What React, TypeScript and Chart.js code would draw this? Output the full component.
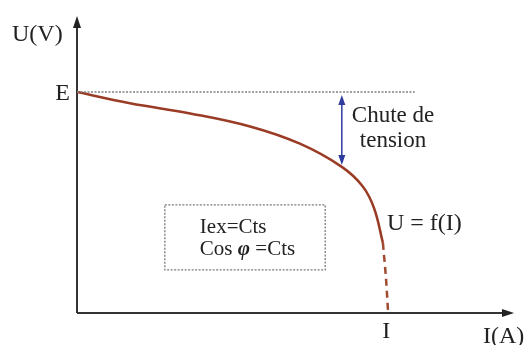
import React, { useEffect, useRef } from "react";
import Chart from "chart.js/auto";

// Data (arbitrary units: I on 0..100, U on 0..100)
const E_VALUE = 74.4;
const I_NOMINAL = 71.2;
const curveI = [0, 12.1, 25.9, 39.6, 51.0, 60.6, 65.4, 68.0, 70.0];
const curveU = [74.4, 70.6, 67.2, 62.8, 57.0, 49.2, 42.6, 35.2, 23.6];
const dashI = [70.0, 70.7, 71.2];
const dashU = [23.6, 11.8, 0];
const refLineI = [0, 77.3];
const dropArrowI = 60.6;
const dropArrowU = [73.4, 49.8];
const boxI = [20.1, 56.8];
const boxU = [36.4, 14.5];
const boxLine1 = "Iex=Cts";
const boxLine2 = ["Cos ", "φ", " =Cts"];
const dropLabel = ["Chute de", "tension"];
const curveLabel = "U = f(I)";
const yAxisLabel = "U(V)";
const xAxisLabel = "I(A)";
const yTick = "E";
const xTick = "I";

const SERIF = "'Liberation Serif', 'DejaVu Serif', serif";

function arrowHead(ctx: CanvasRenderingContext2D, x: number, y: number, dir: "up" | "down" | "right", w: number, h: number) {
  ctx.beginPath();
  if (dir === "up") {
    ctx.moveTo(x, y);
    ctx.lineTo(x - w / 2, y + h);
    ctx.lineTo(x + w / 2, y + h);
  } else if (dir === "down") {
    ctx.moveTo(x, y);
    ctx.lineTo(x - w / 2, y - h);
    ctx.lineTo(x + w / 2, y - h);
  } else {
    ctx.moveTo(x, y);
    ctx.lineTo(x - h, y - w / 2);
    ctx.lineTo(x - h, y + w / 2);
  }
  ctx.closePath();
  ctx.fill();
}

const decorPlugin = {
  id: "decor",
  beforeDatasetsDraw(chart: any) {
    const { ctx, chartArea, scales } = chart;
    const xs = scales.x;
    const ys = scales.y;
    const x0 = xs.getPixelForValue(0);
    const y0 = ys.getPixelForValue(0);
    ctx.save();
    ctx.strokeStyle = "#333";
    ctx.fillStyle = "#222";
    ctx.lineWidth = 2;
    // y axis
    ctx.beginPath();
    ctx.moveTo(x0, y0);
    ctx.lineTo(x0, chartArea.top + 10);
    ctx.stroke();
    arrowHead(ctx, x0, chartArea.top, "up", 8, 12);
    // x axis
    ctx.beginPath();
    ctx.moveTo(x0, y0);
    ctx.lineTo(chartArea.right - 10, y0);
    ctx.stroke();
    arrowHead(ctx, chartArea.right, y0, "right", 8, 12);

    // box
    const bx1 = xs.getPixelForValue(boxI[0]);
    const bx2 = xs.getPixelForValue(boxI[1]);
    const by1 = ys.getPixelForValue(boxU[0]);
    const by2 = ys.getPixelForValue(boxU[1]);
    ctx.strokeStyle = "#7a7a7a";
    ctx.lineWidth = 1.3;
    ctx.setLineDash([2, 1.5]);
    ctx.strokeRect(bx1, by1, bx2 - bx1, by2 - by1);
    ctx.setLineDash([]);

    // drop arrow
    const ax = xs.getPixelForValue(dropArrowI);
    const ay1 = ys.getPixelForValue(dropArrowU[0]);
    const ay2 = ys.getPixelForValue(dropArrowU[1]);
    ctx.strokeStyle = "#2e3c9e";
    ctx.fillStyle = "#2e3c9e";
    ctx.lineWidth = 1.5;
    ctx.beginPath();
    ctx.moveTo(ax, ay1 + 8);
    ctx.lineTo(ax, ay2 - 8);
    ctx.stroke();
    arrowHead(ctx, ax, ay1, "up", 7, 10);
    arrowHead(ctx, ax, ay2, "down", 7, 10);
    ctx.restore();
  },
  afterDraw(chart: any) {
    const { ctx, scales } = chart;
    const xs = scales.x;
    const ys = scales.y;
    const x0 = xs.getPixelForValue(0);
    const y0 = ys.getPixelForValue(0);
    ctx.save();
    ctx.fillStyle = "#222";
    ctx.textBaseline = "alphabetic";
    ctx.textAlign = "left";
    ctx.font = `24px ${SERIF}`;
    ctx.fillText(yAxisLabel, 12, 41);
    ctx.textAlign = "right";
    const ey = ys.getPixelForValue(E_VALUE);
    ctx.fillText(yTick, x0 - 7, ey + 8);
    ctx.textAlign = "center";
    const ix = xs.getPixelForValue(I_NOMINAL);
    ctx.fillText(xTick, ix - 2, y0 + 25);
    ctx.textAlign = "left";
    ctx.fillText(xAxisLabel, 483, y0 + 30);

    ctx.font = `23px ${SERIF}`;
    const ax = xs.getPixelForValue(dropArrowI);
    ctx.fillText(dropLabel[0], ax + 10, 122);
    ctx.fillText(dropLabel[1], ax + 18, 147);

    ctx.font = `24px ${SERIF}`;
    ctx.fillText(curveLabel, 387, 230);

    ctx.font = `21px ${SERIF}`;
    const bx1 = xs.getPixelForValue(boxI[0]);
    ctx.fillText(boxLine1, bx1 + 35, 233);
    let tx = bx1 + 35;
    ctx.fillText(boxLine2[0], tx, 255);
    tx += ctx.measureText(boxLine2[0]).width;
    ctx.font = `italic bold 21px ${SERIF}`;
    ctx.fillText(boxLine2[1], tx, 255);
    tx += ctx.measureText(boxLine2[1]).width;
    ctx.font = `21px ${SERIF}`;
    ctx.fillText(boxLine2[2], tx, 255);
    ctx.restore();
  },
};

export default function App() {
  const ref = useRef<HTMLCanvasElement | null>(null);
  useEffect(() => {
    if (!ref.current) return;
    const chart = new Chart(ref.current, {
      type: "scatter",
      data: {
        datasets: [
          {
            data: refLineI.map((x) => ({ x, y: E_VALUE })),
            showLine: true,
            borderColor: "#7f7f7f",
            borderWidth: 1.5,
            borderDash: [2, 1.5],
            pointRadius: 0,
          },
          {
            data: curveI.map((x, i) => ({ x, y: curveU[i] })),
            showLine: true,
            borderColor: "#9a3b25",
            borderWidth: 2.5,
            tension: 0.4,
            pointRadius: 0,
          },
          {
            data: dashI.map((x, i) => ({ x, y: dashU[i] })),
            showLine: true,
            borderColor: "#a04a30",
            borderWidth: 2.5,
            borderDash: [7, 5],
            tension: 0.3,
            pointRadius: 0,
          },
        ],
      },
      options: {
        animation: false,
        responsive: false,
        events: [],
        layout: { padding: { left: 77, right: 14, top: 16, bottom: 32 } },
        plugins: { legend: { display: false }, tooltip: { enabled: false } },
        scales: {
          x: { type: "linear", min: 0, max: 100, display: false },
          y: { type: "linear", min: 0, max: 100, display: false },
        },
      },
      plugins: [decorPlugin],
    });
    return () => chart.destroy();
  }, []);
  return (
    <div style={{ position: "fixed", left: 0, top: 0, width: 528, height: 345, background: "#fff" }}>
      <canvas ref={ref} width={528} height={345} />
    </div>
  );
}
